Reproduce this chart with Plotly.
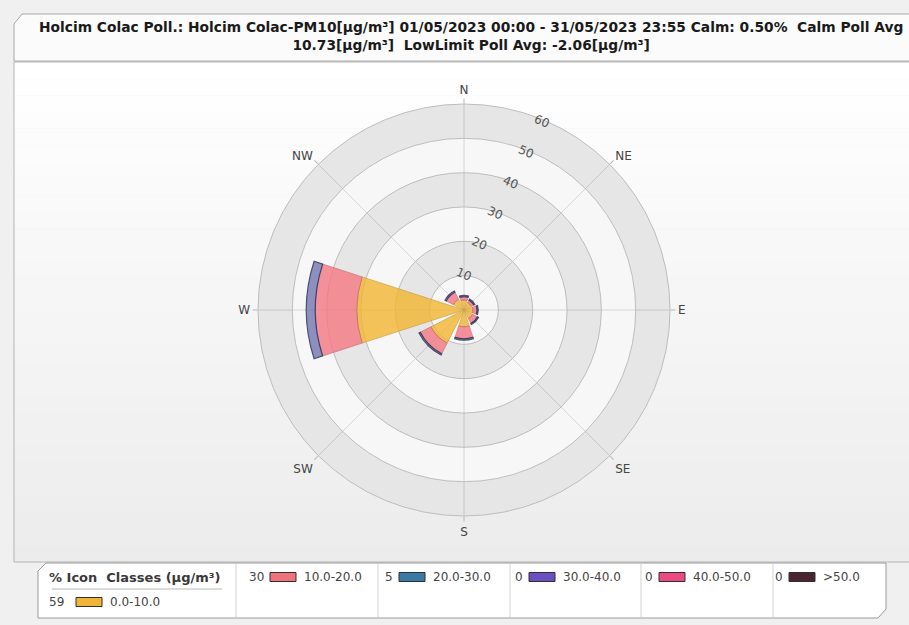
import numpy as np
import plotly.graph_objects as go

# ---- data -------------------------------------------------------------
directions = ["N", "NE", "E", "SE", "S", "SW", "W", "NW"]
bearings = [0, 45, 90, 135, 180, 225, 270, 315]

class_names = ["0.0-10.0", "10.0-20.0", "20.0-30.0", "30.0-40.0", "40.0-50.0", ">50.0"]
class_pct = [59, 30, 5, 0, 0, 0]

# frequency (%) per direction sector for each concentration class
freq_0_10 = [2.9, 2.4, 2.6, 2.8, 4.9, 10.8, 31.2, 3.5]
freq_10_20 = [1.0, 0.8, 1.2, 1.6, 3.5, 3.5, 12.1, 2.3]
freq_20_30 = [0.35, 0.35, 0.35, 0.35, 0.4, 0.4, 2.6, 0.4]
freq_30_40 = [0, 0, 0, 0, 0, 0, 0, 0]
freq_40_50 = [0, 0, 0, 0, 0, 0, 0, 0]
freq_50_up = [0, 0, 0, 0, 0, 0, 0, 0]

radial_ticks = [10, 20, 30, 40, 50, 60]

title_line1 = ("Holcim Colac Poll.: Holcim Colac-PM10[µg/m³] 01/05/2023 00:00 - "
               "31/05/2023 23:55 Calm: 0.50%  Calm Poll Avg")
title_line2 = "10.73[µg/m³]  LowLimit Poll Avg: -2.06[µg/m³]"

# ---- styling ----------------------------------------------------------
W, H = 909, 625
FONT = "DejaVu Sans"
fill_colors = ["#f2b636", "#f37a85", "#7479b4", "#6a4fb5", "#e8457a", "#5a2a35"]
line_colors = ["#c9952e", "#c9606a", "#262a52", "#3d2a70", "#a02d55", "#3a1820"]
icon_colors = ["#f0b43a", "#f0737c", "#3a78a6", "#6a4fc0", "#ea4a80", "#4a2430"]


def px(x):
    return x / W


def py(y):
    return 1 - y / H


fig = go.Figure()

# alternating grey rings behind the rose
for b in [10, 30, 50]:
    fig.add_trace(go.Barpolar(
        r=[10], base=[b], theta=[0], width=[360],
        marker=dict(color="rgba(0,0,0,0.065)", line=dict(width=0)),
        hoverinfo="skip", showlegend=False,
    ))

# stacked concentration classes
series = [freq_0_10, freq_10_20, freq_20_30, freq_30_40, freq_40_50, freq_50_up]
cum = np.zeros(len(bearings))
for i, vals in enumerate(series):
    vals = np.asarray(vals, dtype=float)
    if vals.sum() > 0:
        fig.add_trace(go.Barpolar(
            r=vals, base=cum.copy(), theta=bearings, width=[36] * len(bearings),
            name=class_names[i],
            marker=dict(color=fill_colors[i],
                        line=dict(color=line_colors[i], width=1.2 if i == 2 else 0.8)),
            opacity=0.82, showlegend=False,
        ))
    cum = cum + vals

fig.update_layout(
    width=W, height=H,
    margin=dict(l=0, r=0, t=0, b=0),
    paper_bgcolor="#f0f0f0",
    font=dict(family=FONT, color="#444444"),
    polar=dict(
        domain=dict(x=[px(258), px(670)], y=[py(516), py(104)]),
        bgcolor="#f7f7f7",
        barmode="overlay",
        angularaxis=dict(
            rotation=90, direction="clockwise",
            tickmode="array", tickvals=bearings, ticktext=directions,
            showline=True, linecolor="#bdbdbd", linewidth=1,
            ticks="outside", ticklen=5, tickcolor="#b5b5b5",
            showgrid=True, gridcolor="#d6d6d6", gridwidth=1,
            tickfont=dict(size=12, color="#444444", family=FONT),
        ),
        radialaxis=dict(
            range=[0, 60], tickmode="array", tickvals=radial_ticks,
            angle=63, tickangle=86, side="counterclockwise",
            showline=False, ticks="",
            showgrid=True, gridcolor="#c4c4c4", gridwidth=1,
            tickfont=dict(size=12, color="#555555", family=FONT),
        ),
    ),
)

shapes = []
# chart frame with soft vertical gradient
top, bot = 62, 562
steps = 30
for k in range(steps):
    y0 = top + (bot - top) * k / steps
    y1 = top + (bot - top) * (k + 1) / steps
    g = int(round(255 - (255 - 236) * (k / (steps - 1))))
    shapes.append(dict(type="rect", xref="paper", yref="paper",
                       x0=px(14), x1=px(912), y0=py(y1), y1=py(y0),
                       fillcolor=f"rgb({g},{g},{g})", line=dict(width=0), layer="below"))
shapes.append(dict(type="rect", xref="paper", yref="paper",
                   x0=px(14), x1=px(912), y0=py(bot), y1=py(top),
                   fillcolor="rgba(0,0,0,0)", line=dict(color="#b4b4b4", width=1),
                   layer="below"))

# title tab
shapes.append(dict(type="path", xref="paper", yref="paper",
                   path=f"M {px(14)},{py(24)} L {px(22)},{py(14)} L {px(912)},{py(14)} "
                        f"L {px(912)},{py(61)} L {px(14)},{py(61)} Z",
                   fillcolor="#fbfbfb", line=dict(color="#a8a8a8", width=1), layer="below"))

# legend box
shapes.append(dict(type="path", xref="paper", yref="paper",
                   path=f"M {px(38)},{py(571)} L {px(46)},{py(563)} L {px(886)},{py(563)} "
                        f"L {px(886)},{py(609)} L {px(878)},{py(618)} L {px(38)},{py(618)} Z",
                   fillcolor="#ffffff", line=dict(color="#9a9a9a", width=1), layer="above"))
col_seps = [236, 378, 510, 641, 773]
for xs in col_seps:
    shapes.append(dict(type="line", xref="paper", yref="paper",
                       x0=px(xs), x1=px(xs), y0=py(563), y1=py(618),
                       line=dict(color="#d2d2d2", width=1)))
shapes.append(dict(type="line", xref="paper", yref="paper",
                   x0=px(52), x1=px(222), y0=py(589), y1=py(589),
                   line=dict(color="#b8b8b8", width=1)))

annotations = [
    dict(xref="paper", yref="paper", x=px(471), y=py(36), xanchor="center", yanchor="middle",
         text=f"<b>{title_line1}</b><br><b>{title_line2}</b>", showarrow=False,
         font=dict(family=FONT, size=13.8, color="#1a1a1a")),
    dict(xref="paper", yref="paper", x=px(47), y=py(577), xanchor="left", yanchor="middle",
         text="<b>% Icon  Classes (µg/m³)</b>", showarrow=False,
         font=dict(family=FONT, size=13, color="#3a3a3a")),
]

# legend entries: first class sits under the header, the rest one per column
icon_left = [76, 270, 399, 529, 659, 789]
entry_y = [602, 577, 577, 577, 577, 577]
for i in range(len(class_names)):
    ix, yc = icon_left[i], entry_y[i]
    annotations.append(dict(xref="paper", yref="paper", x=px(ix - (10 if i == 0 else 4)),
                            y=py(yc), xanchor="right", yanchor="middle",
                            text=str(class_pct[i]), showarrow=False,
                            font=dict(family=FONT, size=12, color="#444444")))
    shapes.append(dict(type="rect", xref="paper", yref="paper",
                       x0=px(ix), x1=px(ix + 26), y0=py(yc + 4.5), y1=py(yc - 4.5),
                       fillcolor=icon_colors[i], line=dict(color="#303030", width=1)))
    annotations.append(dict(xref="paper", yref="paper", x=px(ix + 32), y=py(yc),
                            xanchor="left", yanchor="middle", text=class_names[i],
                            showarrow=False,
                            font=dict(family=FONT, size=12, color="#444444")))

fig.update_layout(shapes=shapes, annotations=annotations)
fig.write_html("out.html")
